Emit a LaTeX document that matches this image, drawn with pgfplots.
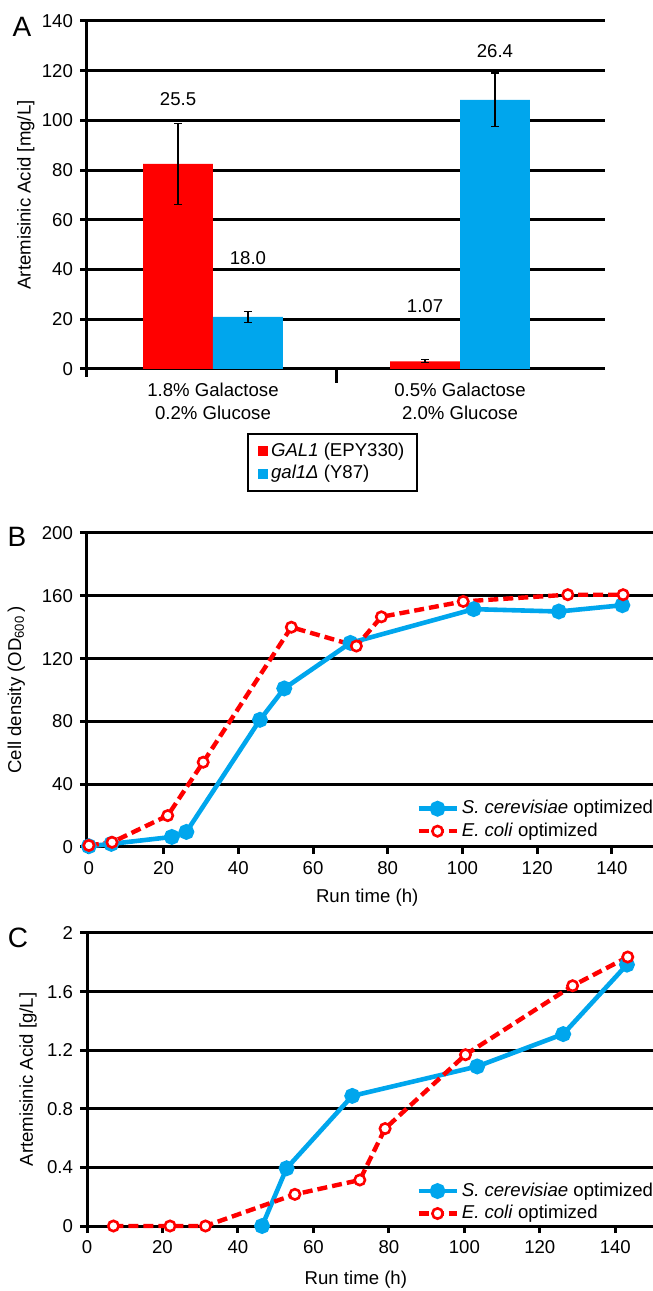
\documentclass[border=0pt]{standalone}
\usepackage{fontspec}
\setmainfont{Liberation Sans}
\usepackage{pgfplots}
\pgfplotsset{compat=1.18}

\definecolor{aared}{RGB}{255,0,0}
\definecolor{aablue}{RGB}{0,166,237}

\pgfplotsset{
  panel/.style={
    scale only axis, clip=false,
    axis lines=left, axis line style={-, line width=1.5pt},
    tick style={black, line width=1.5pt}, tick align=outside, major tick length=3.5pt,
    ymajorgrids, major grid style={black, line width=1.5pt},
    /pgf/number format/assume math mode=true,
    tick label style={font=\fontsize{9.3}{11.5}\selectfont},
    label style={font=\fontsize{9.3}{11.5}\selectfont},
    legend style={font=\fontsize{9.3}{11.5}\selectfont},
    legend cell align=left,
  },
  sc/.style={aablue, line width=2.3pt, mark=*, mark size=2.8pt, mark options={solid, fill=aablue}},
  ec/.style={aared, line width=2.2pt, dash pattern=on 5pt off 2.5pt, mark=*, mark size=2.6pt,
    mark options={solid, draw=aared, fill=white, line width=1.3pt}},
  linelegend/.style={
    legend style={at={(0.581,0.159)}, anchor=north west, draw=none, fill=none,
      inner sep=0pt, row sep=0pt, nodes={inner sep=1.5pt}},
    legend image code/.code={\draw[mark repeat=2,mark phase=2,##1]
      plot coordinates {(0pt,0pt) (9.5pt,0pt) (19pt,0pt)};},
  },
  errbar/.style={error bars/.cd, y dir=both, y explicit,
    error bar style={black, line width=0.6pt},
    error mark options={rotate=90, black, mark size=2pt, line width=0.6pt}},
}

\begin{document}
\begin{tikzpicture}[x=1pt,y=1pt]
\useasboundingbox (0pt,0pt) rectangle (326.5pt,645.5pt);

% ---- A: bars (groups at 0 and 1, bars offset by half a bar width)
\begin{axis}[panel, at={(43.5pt,461pt)}, anchor=south west, width=259pt, height=174pt,
  xmin=-0.51, xmax=1.587, ymin=0, ymax=140, ytick={0,20,...,140},
  xtick={0,1}, xtick style={draw=none},
  xticklabels={{1.8\% Galactose\\0.2\% Glucose},{0.5\% Galactose\\2.0\% Glucose}},
  xticklabel style={align=center},
  ylabel={Artemisinic Acid [mg/L]},
  ylabel style={at={(axis description cs:-0.118,0.5)}, anchor=center},
  legend style={at={(0.309,-0.184)}, anchor=north west, draw=black, line width=1pt,
    inner xsep=5pt, inner ysep=3pt, row sep=0pt, nodes={inner sep=1.5pt}},
]
\addplot[ybar, bar width=0.283, bar shift=0, fill=aared, draw=none,
  legend image code/.code={\fill[aared] (0pt,-2.5pt) rectangle (5pt,2.5pt);}, errbar]
  coordinates {(-0.1415,82.5) +- (0,16.3) (0.8585,3.1) +- (0,0.6)};
\addlegendentry{\textit{GAL1} (EPY330)}
\addplot[ybar, bar width=0.283, bar shift=0, fill=aablue, draw=none,
  legend image code/.code={\fill[aablue] (0pt,-2.5pt) rectangle (5pt,2.5pt);}, errbar]
  coordinates {(0.1415,21.0) +- (0,2.2) (1.1415,108.3) +- (0,10.8)};
\addlegendentry{\textit{gal1Δ} (Y87)}
\draw[line width=1.5pt] (axis cs:0.5,0) -- ++(0pt,-7pt);
\draw[line width=1.5pt] (axis cs:-0.51,0) -- ++(0pt,-4pt);
\node[font=\fontsize{9.3}{11}\selectfont] at (axis cs:-0.1415,108.6) {25.5};
\node[font=\fontsize{9.3}{11}\selectfont] at (axis cs:0.1415,44.8) {18.0};
\node[font=\fontsize{9.3}{11}\selectfont] at (axis cs:0.8585,25.4) {1.07};
\node[font=\fontsize{9.3}{11}\selectfont] at (axis cs:1.1415,128) {26.4};
\end{axis}

% ---- B: cell density
\begin{axis}[panel, linelegend, at={(43.5pt,222pt)}, anchor=south west, width=283pt, height=157pt,
  xmin=-0.5, xmax=151, ymin=0, ymax=200, ytick={0,40,...,200}, xtick={0,20,...,140},
  xlabel={Run time (h)},
  xlabel style={at={(axis description cs:0.495,-0.16)}, anchor=center},
  ylabel={Cell density (OD\textsubscript{600}\,)},
  ylabel style={at={(axis description cs:-0.125,0.5)}, anchor=center},
]
\addplot[sc] coordinates {(0,0.5) (6,2) (22.2,6.4) (26.1,9.6) (45.8,81) (52.3,101)
  (70,130) (103,151.5) (125.8,150) (142.8,154)};
\addlegendentry{\textit{S. cerevisiae} optimized}
\addplot[ec] coordinates {(0,1) (6.2,3) (21.1,20) (30.6,54) (54.2,140) (71.6,128)
  (78.3,146.6) (100.2,156.4) (128.2,160.7) (143,160.7)};
\addlegendentry{\textit{E. coli} optimized}
\end{axis}

% ---- C: artemisinic acid
\begin{axis}[panel, linelegend, at={(43.5pt,32.5pt)}, anchor=south west, width=283pt, height=146.5pt,
  xmin=0, xmax=150, ymin=0, ymax=2, ytick={0,0.4,...,2.0}, xtick={0,20,...,140},
  xlabel={Run time (h)},
  xlabel style={at={(axis description cs:0.475,-0.184)}, anchor=center},
  ylabel={Artemisinic Acid [g/L]},
  ylabel style={at={(axis description cs:-0.104,0.5)}, anchor=center},
]
\addplot[sc] coordinates {(46.4,0) (52.9,0.394) (70.3,0.888) (103.4,1.089)
  (126.2,1.31) (143.1,1.784)};
\addlegendentry{\textit{S. cerevisiae} optimized}
\addplot[ec] coordinates {(7,0) (22,0) (31.4,0) (55.1,0.216) (72.3,0.314) (79,0.665)
  (100.3,1.169) (128.7,1.64) (143.3,1.836)};
\addlegendentry{\textit{E. coli} optimized}
\end{axis}

\node[font=\fontsize{14}{16}\selectfont] at (11pt,632pt) {A};
\node[font=\fontsize{14}{16}\selectfont] at (8.5pt,377pt) {B};
\node[font=\fontsize{14}{16}\selectfont] at (9pt,176.5pt) {C};
\end{tikzpicture}
\end{document}
